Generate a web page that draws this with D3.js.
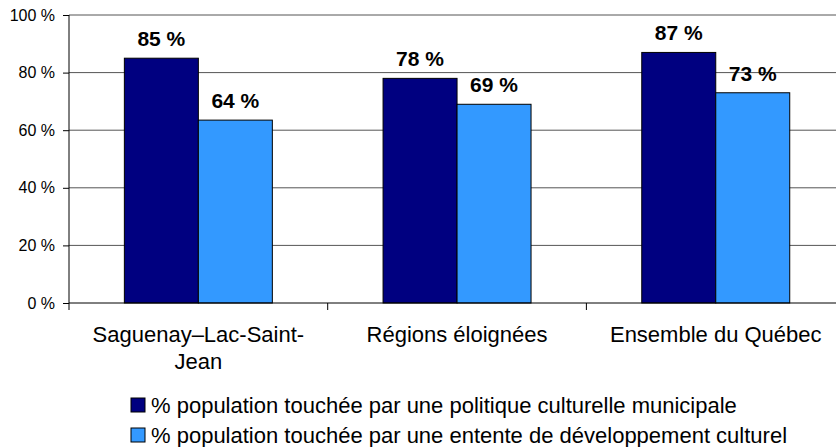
<!DOCTYPE html>
<html>
<head>
<meta charset="utf-8">
<script src="https://cdn.jsdelivr.net/npm/d3@7"></script>
<style>
  body { margin: 0; background: #fff; }
  svg { display: block; font-family: "Liberation Sans", Arial, sans-serif; }
</style>
</head>
<body>
<div id="chart"></div>
<script>
// Data
const categories = ["Saguenay–Lac-Saint-Jean", "Régions éloignées", "Ensemble du Québec"];
const seriesNames = [
    "% population touchée par une politique culturelle municipale",
    "% population touchée par une entente de développement culturel"
];
const politiqueValues = [85, 78, 87];
const ententeValues = [63.5, 69, 73];
const yTicks = [0, 20, 40, 60, 80, 100];
const colors = ["#000080", "#3399FF"];

const W = 836, H = 447;
const plotLeft = 69, plotTop = 15, plotBottom = 303;
const step = 258.7; // category width, the last band runs past the right edge

const svg = d3.select("#chart").append("svg")
    .attr("width", W)
    .attr("height", H);

const x0 = d3.scaleBand()
    .domain(categories)
    .range([plotLeft, plotLeft + step * categories.length])
    .padding(0);

const bw = x0.bandwidth();
const x1 = d3.scaleBand()
    .domain(seriesNames)
    .range([bw * 0.214, bw * 0.786])
    .padding(0);

const y = d3.scaleLinear().domain([0, 100]).range([plotBottom, plotTop]);

// gridlines
svg.append("g").selectAll("line")
    .data(yTicks.filter(d => d > 0))
    .join("line")
    .attr("x1", plotLeft).attr("x2", W)
    .attr("y1", d => y(d)).attr("y2", d => y(d))
    .style("stroke", "#555")
    .style("stroke-width", 1);

// y axis
const yAxis = svg.append("g")
    .attr("transform", `translate(${plotLeft},0)`)
    .call(d3.axisLeft(y).tickValues(yTicks).tickSize(6).tickPadding(8).tickFormat(d => d + " %"));
yAxis.select(".domain").remove();
yAxis.selectAll("text")
    .style("font-size", "16px")
    .style("font-family", "'Liberation Sans', Arial, sans-serif")
    .attr("fill", "#000");
yAxis.selectAll("line").attr("stroke", "#000");
svg.append("line")
    .attr("x1", plotLeft).attr("x2", plotLeft)
    .attr("y1", plotTop).attr("y2", plotBottom + 7)
    .style("stroke", "#000");

// bars
const rows = categories.map((c, i) => ({
    cat: c,
    vals: [politiqueValues[i], ententeValues[i]]
}));

const groups = svg.append("g").selectAll("g")
    .data(rows)
    .join("g")
    .attr("transform", d => `translate(${x0(d.cat)},0)`);

groups.selectAll("rect")
    .data(d => d.vals.map((v, j) => ({ name: seriesNames[j], v: v, j: j })))
    .join("rect")
    .attr("x", d => x1(d.name))
    .attr("y", d => y(d.v))
    .attr("width", x1.bandwidth())
    .attr("height", d => y(0) - y(d.v))
    .style("fill", d => colors[d.j])
    .style("stroke", "#000")
    .style("stroke-width", 1);

groups.selectAll("text.val")
    .data(d => d.vals.map((v, j) => ({ name: seriesNames[j], v: v })))
    .join("text")
    .attr("class", "val")
    .attr("x", d => x1(d.name) + x1.bandwidth() / 2)
    .attr("y", d => y(d.v) - 12)
    .attr("text-anchor", "middle")
    .style("font-size", "21px")
    .style("font-weight", "bold")
    .text(d => Math.round(d.v) + " %");

// x axis
svg.append("line")
    .attr("x1", plotLeft).attr("x2", W)
    .attr("y1", plotBottom).attr("y2", plotBottom)
    .style("stroke", "#000");
svg.append("g").selectAll("line")
    .data(categories.slice(1))
    .join("line")
    .attr("x1", d => x0(d)).attr("x2", d => x0(d))
    .attr("y1", plotBottom).attr("y2", plotBottom + 7)
    .style("stroke", "#000");

// category labels, wrapped after a hyphen when too wide
const catText = svg.append("g").selectAll("text")
    .data(categories)
    .join("text")
    .attr("x", d => x0(d) + bw / 2)
    .attr("y", 342)
    .attr("text-anchor", "middle")
    .style("font-size", "22px");

catText.each(function(d) {
    const t = d3.select(this);
    t.text(d);
    if (this.getComputedTextLength() > bw * 0.85) {
        const cut = d.lastIndexOf("-") + 1;
        t.text(null);
        t.append("tspan").attr("x", x0(d) + bw / 2).text(d.slice(0, cut));
        t.append("tspan").attr("x", x0(d) + bw / 2).attr("dy", 27).text(d.slice(cut));
    }
});

// legend
const legend = svg.append("g").selectAll("g")
    .data(seriesNames)
    .join("g")
    .attr("transform", (d, i) => `translate(131,${398 + i * 30})`);

legend.append("rect")
    .attr("width", 14).attr("height", 14)
    .style("fill", (d, i) => colors[i])
    .style("stroke", "#000");

legend.append("text")
    .attr("x", 20)
    .attr("y", 15)
    .style("font-size", "22px")
    .text(d => d);
</script>
</body>
</html>
